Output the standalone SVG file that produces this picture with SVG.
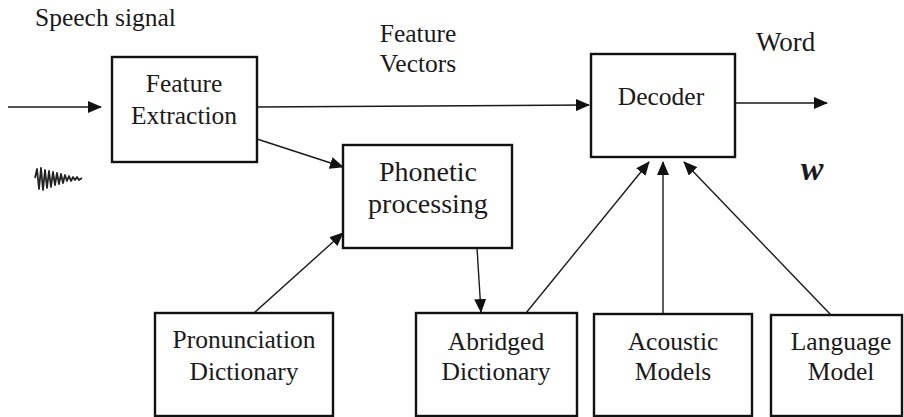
<svg xmlns="http://www.w3.org/2000/svg" width="904" height="417" viewBox="0 0 904 417" font-family="'Liberation Serif', 'Times New Roman', serif">
  <defs>
    <marker id="arrow" markerUnits="userSpaceOnUse" markerWidth="14" markerHeight="12" viewBox="0 0 14 12" refX="13" refY="6" orient="auto">
      <path d="M0,0 L14,6 L0,12 Z" fill="#111"/>
    </marker>
    <style>
      .box { fill: #fff; stroke: #111; stroke-width: 2.4; }
      text { font-family: 'Liberation Serif', 'Times New Roman', serif; font-size: 25.5px; fill: #1a1a1a; }
      .lbl { text-anchor: middle; }
      .big { font-size: 28px; }
      .conn { stroke: #1a1a1a; stroke-width: 1.4; fill: none; marker-end: url(#arrow); }
    </style>
  </defs>
  <rect width="904" height="417" fill="#fff"/>

  <!-- free labels -->
  <text x="35" y="26">Speech signal</text>
  <text class="lbl" x="418" y="42">Feature</text>
  <text class="lbl" x="418" y="72">Vectors</text>
  <text x="756" y="51" style="font-size:27px">Word</text>
  <text class="lbl" x="812" y="180" font-weight="bold" font-style="italic" style="font-size:34px">w</text>

  <!-- speech waveform -->
  <path d="M35,178 L37,169 L39,189 L41,168 L43,190 L45,170 L47,188 L49,171 L51,187 L53,172 L55,185 L57,173 L59,184 L61,174 L63,183 L65,175 L67,181 L69,176 L71,181 L73,177 L75,180 L77,177 L79,180 L82,178" fill="none" stroke="#222" stroke-width="1.8" stroke-linejoin="round"/>

  <!-- connectors -->
  <g id="connectors">
    <line class="conn" x1="8" y1="107" x2="101" y2="107"/>
    <line class="conn" x1="257" y1="107" x2="589" y2="105"/>
    <line class="conn" x1="257" y1="139" x2="343" y2="167"/>
    <line class="conn" x1="254" y1="313" x2="343" y2="233"/>
    <line class="conn" x1="477" y1="248" x2="481" y2="312"/>
    <line class="conn" x1="526" y1="313" x2="649" y2="162"/>
    <line class="conn" x1="663" y1="313" x2="663" y2="162"/>
    <line class="conn" x1="831" y1="315" x2="684" y2="162"/>
    <line class="conn" x1="735" y1="103" x2="827" y2="103"/>
  </g>

  <g id="feature-extraction">
    <rect class="box" x="112" y="57" width="145" height="105"/>
    <text class="lbl" x="184" y="92">Feature</text>
    <text class="lbl" x="184" y="124">Extraction</text>
  </g>

  <g id="phonetic-processing">
    <rect class="box" x="343" y="145" width="169" height="103"/>
    <text class="lbl big" x="428" y="181">Phonetic</text>
    <text class="lbl big" x="428" y="213">processing</text>
  </g>

  <g id="decoder">
    <rect class="box" x="591" y="54" width="144" height="103"/>
    <text class="lbl" x="661" y="105">Decoder</text>
  </g>

  <g id="pronunciation-dictionary">
    <rect class="box" x="155" y="313" width="178" height="103"/>
    <text class="lbl" x="244" y="348">Pronunciation</text>
    <text class="lbl" x="244" y="380">Dictionary</text>
  </g>

  <g id="abridged-dictionary">
    <rect class="box" x="416" y="313" width="161" height="103"/>
    <text class="lbl" x="496" y="350">Abridged</text>
    <text class="lbl" x="496" y="380">Dictionary</text>
  </g>

  <g id="acoustic-models">
    <rect class="box" x="594" y="314" width="158" height="102"/>
    <text class="lbl" x="673" y="350">Acoustic</text>
    <text class="lbl" x="673" y="380">Models</text>
  </g>

  <g id="language-model">
    <rect class="box" x="771" y="315" width="131" height="101"/>
    <text class="lbl" x="841" y="350">Language</text>
    <text class="lbl" x="841" y="380">Model</text>
  </g>
</svg>
